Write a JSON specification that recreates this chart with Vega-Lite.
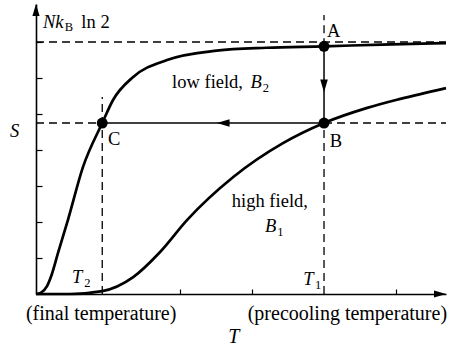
{
  "$schema": "https://vega.github.io/schema/vega-lite/v6.json",
  "width": 410,
  "height": 290,
  "autosize": {"type": "none"},
  "padding": {"left": 36, "top": 4, "right": 4, "bottom": 54},
  "background": "white",
  "config": {"view": {"stroke": null}, "text": {"font": "Liberation Serif", "color": "black"}},
  "datasets": {
    "low": [
      {"x": 0, "y": 0}, {"x": 0.07, "y": 0.04}, {"x": 0.153, "y": 0.22}, {"x": 0.22, "y": 0.55},
      {"x": 0.306, "y": 1.14}, {"x": 0.444, "y": 2.06}, {"x": 0.653, "y": 3.53}, {"x": 0.92, "y": 4.75},
      {"x": 1.07, "y": 5.39}, {"x": 1.35, "y": 6.03}, {"x": 1.82, "y": 6.5}, {"x": 2.51, "y": 6.76},
      {"x": 3.2, "y": 6.84}, {"x": 4.0, "y": 6.88}, {"x": 4.8, "y": 6.93}, {"x": 5.694, "y": 6.97}
    ],
    "high": [
      {"x": 0, "y": 0}, {"x": 0.47, "y": 0.0}, {"x": 0.92, "y": 0.08}, {"x": 1.35, "y": 0.47},
      {"x": 1.72, "y": 1.16}, {"x": 2.1, "y": 2.06}, {"x": 2.74, "y": 3.25}, {"x": 3.43, "y": 4.19},
      {"x": 4.0, "y": 4.75}, {"x": 4.6, "y": 5.17}, {"x": 5.06, "y": 5.42}, {"x": 5.694, "y": 5.72}
    ],
    "dashed": [
      {"x": 0, "y": 7.0, "x2": 5.694, "y2": 7.0},
      {"x": 0, "y": 4.75, "x2": 0.92, "y2": 4.75},
      {"x": 4.0, "y": 4.75, "x2": 5.694, "y2": 4.75},
      {"x": 0.92, "y": 0, "x2": 0.92, "y2": 5.47},
      {"x": 4.0, "y": 0, "x2": 4.0, "y2": 4.75},
      {"x": 4.0, "y": 6.88, "x2": 4.0, "y2": 7.75}
    ],
    "solid": [
      {"x": 4.0, "y": 6.88, "x2": 4.0, "y2": 4.75},
      {"x": 0.92, "y": 4.75, "x2": 4.0, "y2": 4.75}
    ],
    "states": [
      {"x": 4.0, "y": 6.88}, {"x": 4.0, "y": 4.75}, {"x": 0.92, "y": 4.75}
    ],
    "arrowUp": [{"x": 0, "y": 7.889}],
    "arrowRight": [{"x": 5.611, "y": 0}],
    "arrowDown": [{"x": 4.0, "y": 5.78}],
    "arrowLeft": [{"x": 2.6, "y": 4.75}],
    "roman": [
      {"x": 0.63, "y": 7.38, "label": "ln 2"},
      {"x": 4.04, "y": 7.14, "label": "A"},
      {"x": 4.08, "y": 4.08, "label": "B"},
      {"x": 1.0, "y": 4.14, "label": "C"},
      {"x": 1.89, "y": 5.72, "label": "low field,"},
      {"x": 2.72, "y": 2.42, "label": "high field,"}
    ],
    "bottom": [
      {"x": -0.14, "y": -0.72, "label": "(final temperature)"},
      {"x": 2.94, "y": -0.72, "label": "(precooling temperature)"}
    ],
    "italic": [
      {"x": 0.097, "y": 7.38, "label": "Nk"},
      {"x": -0.36, "y": 4.36, "label": "S"},
      {"x": 2.98, "y": 5.72, "label": "B"},
      {"x": 3.18, "y": 1.72, "label": "B"},
      {"x": 0.5, "y": 0.31, "label": "T"},
      {"x": 3.71, "y": 0.25, "label": "T"}
    ],
    "bigItalic": [
      {"x": 2.67, "y": -1.36, "label": "T"}
    ],
    "subs": [
      {"x": 0.4, "y": 7.3, "label": "B"},
      {"x": 3.15, "y": 5.6, "label": "2"},
      {"x": 3.35, "y": 1.62, "label": "1"},
      {"x": 0.67, "y": 0.19, "label": "2"},
      {"x": 3.875, "y": 0.14, "label": "1"}
    ]
  },
  "encoding": {
    "x": {
      "field": "x", "type": "quantitative",
      "scale": {"domain": [0, 5.694], "nice": false, "zero": false},
      "axis": {"title": null, "labels": false, "grid": false, "domainColor": "black", "domainWidth": 1.6,
               "tickColor": "black", "tickWidth": 1.2, "tickSize": -5, "values": [2, 3, 5]}
    },
    "y": {
      "field": "y", "type": "quantitative",
      "scale": {"domain": [0, 8.056], "nice": false, "zero": false},
      "axis": {"title": null, "labels": false, "grid": false, "domainColor": "black", "domainWidth": 1.6,
               "tickColor": "black", "tickWidth": 1.2, "tickSize": -6, "values": [1, 2, 3, 4, 5, 6, 7]}
    }
  },
  "layer": [
    {"data": {"name": "dashed"}, "mark": {"type": "rule", "color": "black", "strokeWidth": 1.3, "strokeDash": [8, 5]},
     "encoding": {"x2": {"field": "x2"}, "y2": {"field": "y2"}}},
    {"data": {"name": "solid"}, "mark": {"type": "rule", "color": "black", "strokeWidth": 1.5},
     "encoding": {"x2": {"field": "x2"}, "y2": {"field": "y2"}}},
    {"data": {"name": "low"}, "mark": {"type": "line", "color": "black", "strokeWidth": 2.7, "interpolate": "monotone"}},
    {"data": {"name": "high"}, "mark": {"type": "line", "color": "black", "strokeWidth": 2.7, "interpolate": "monotone"}},
    {"data": {"name": "states"}, "mark": {"type": "point", "filled": true, "color": "black", "opacity": 1, "size": 120, "shape": "circle"}},
    {"data": {"name": "arrowUp"}, "mark": {"type": "point", "filled": true, "color": "black", "opacity": 1, "size": 144, "shape": "M0,-1L0.6,1L-0.6,1Z"}},
    {"data": {"name": "arrowRight"}, "mark": {"type": "point", "filled": true, "color": "black", "opacity": 1, "size": 144, "shape": "M1,0L-1,-0.6L-1,0.6Z"}},
    {"data": {"name": "arrowDown"}, "mark": {"type": "point", "filled": true, "color": "black", "opacity": 1, "size": 160, "shape": "M0,1L0.6,-1L-0.6,-1Z"}},
    {"data": {"name": "arrowLeft"}, "mark": {"type": "point", "filled": true, "color": "black", "opacity": 1, "size": 160, "shape": "M-1,0L1,-0.6L1,0.6Z"}},
    {"data": {"name": "roman"}, "mark": {"type": "text", "align": "left", "baseline": "alphabetic", "fontSize": 18.5},
     "encoding": {"text": {"field": "label"}}},
    {"data": {"name": "bottom"}, "mark": {"type": "text", "align": "left", "baseline": "alphabetic", "fontSize": 20},
     "encoding": {"text": {"field": "label"}}},
    {"data": {"name": "italic"}, "mark": {"type": "text", "align": "left", "baseline": "alphabetic", "fontSize": 18.5, "fontStyle": "italic"},
     "encoding": {"text": {"field": "label"}}},
    {"data": {"name": "bigItalic"}, "mark": {"type": "text", "align": "left", "baseline": "alphabetic", "fontSize": 20, "fontStyle": "italic"},
     "encoding": {"text": {"field": "label"}}},
    {"data": {"name": "subs"}, "mark": {"type": "text", "align": "left", "baseline": "alphabetic", "fontSize": 12.5},
     "encoding": {"text": {"field": "label"}}}
  ]
}
